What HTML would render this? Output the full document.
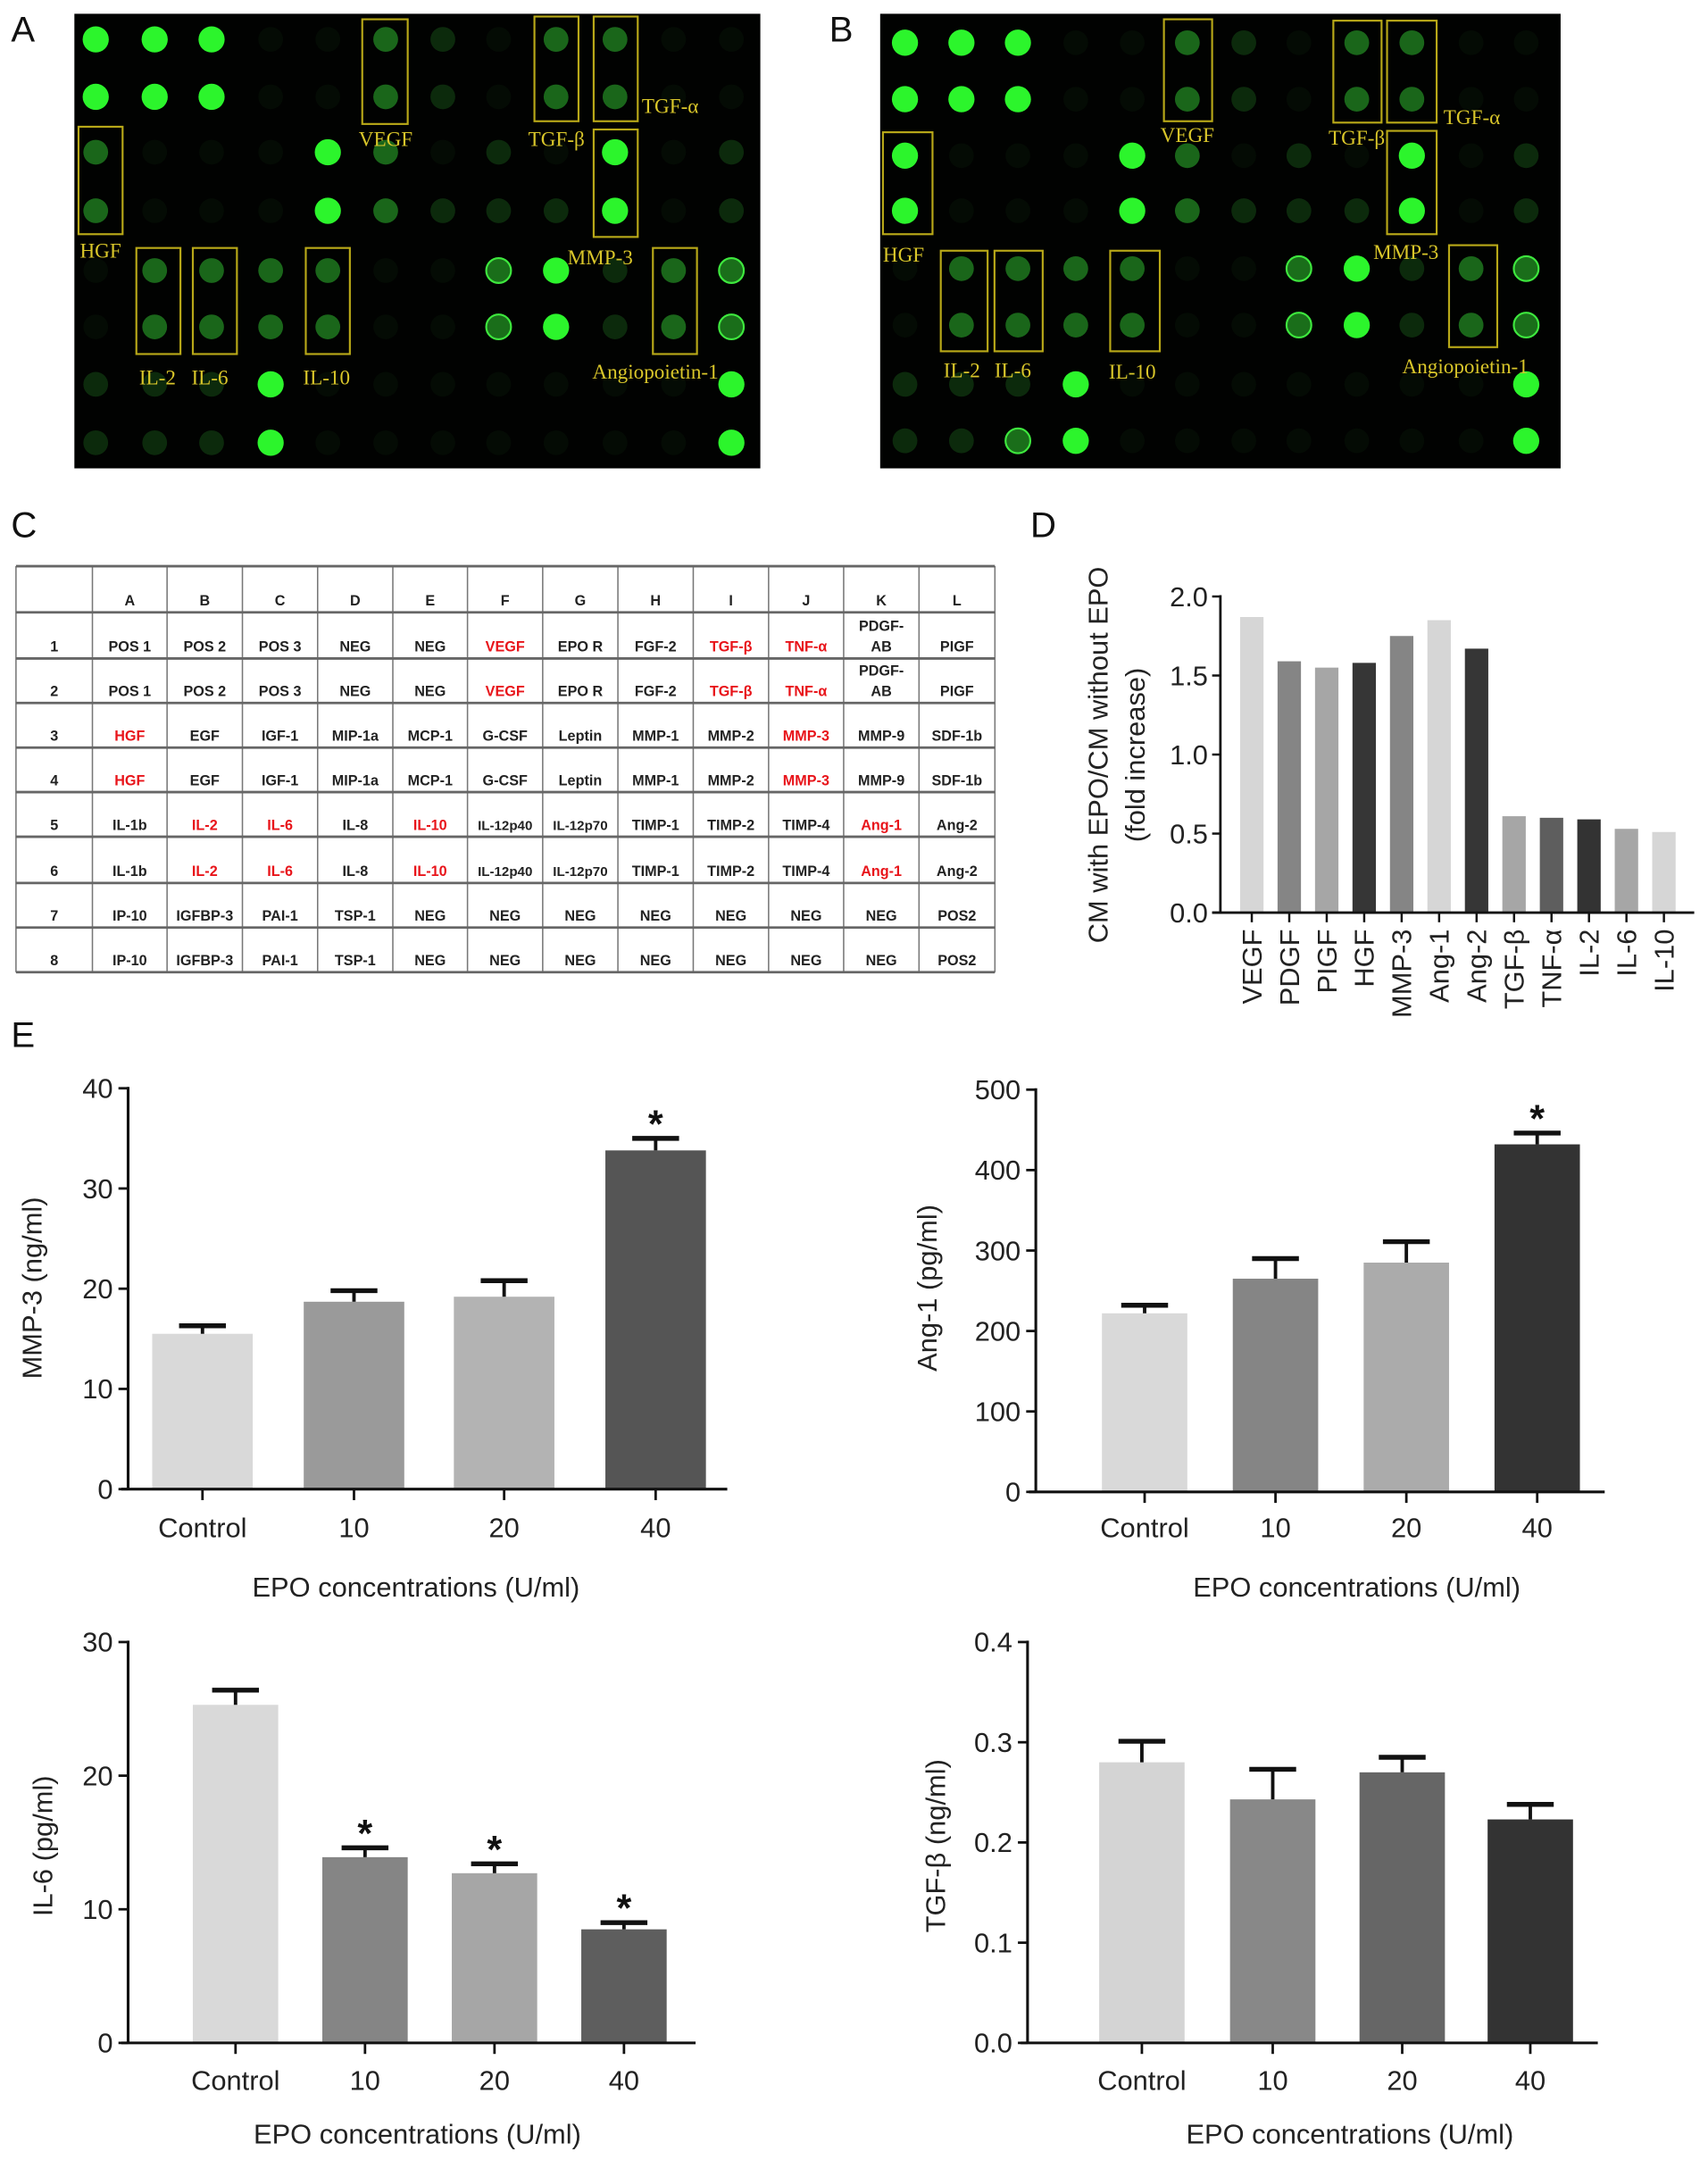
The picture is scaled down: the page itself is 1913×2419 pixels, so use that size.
<!DOCTYPE html>
<html><head><meta charset="utf-8"><style>
html,body{margin:0;padding:0;background:#fff;}
svg{display:block;}
text{font-family:"Liberation Sans",sans-serif;}
</style></head><body>
<svg id="fig" width="1913" height="2419" viewBox="0 0 1240 1568" preserveAspectRatio="none" xmlns="http://www.w3.org/2000/svg">
<rect x="0" y="0" width="1240" height="1568" fill="#fff"/>
</svg>
<script>
// ---------- data ----------
const arrayA = [
 [3,3,3,0,0,2,1,0,2,2,0,0],
 [3,3,3,0,0,2,1,0,2,2,0,0],
 [2,0,0,0,3,2,0,1,0,3,0,1],
 [2,0,0,0,3,2,1,1,1,3,0,1],
 [0,2,2,2,2,0,0,4,3,1,2,4],
 [0,2,2,2,2,0,0,4,3,1,2,4],
 [1,1,1,3,0,0,0,0,0,0,0,3],
 [1,1,1,3,0,0,0,0,0,0,0,3]];
const arrayB = [
 [3,3,3,0,0,2,1,0,2,2,0,0],
 [3,3,3,0,0,2,1,0,2,2,0,0],
 [3,0,0,0,3,2,0,1,0,3,0,1],
 [3,0,0,0,3,2,1,1,1,3,0,1],
 [0,2,2,2,2,0,0,4,3,1,2,4],
 [0,2,2,2,2,0,0,4,3,1,2,4],
 [1,1,1,3,0,0,0,0,0,0,0,3],
 [1,1,4,3,0,0,0,0,0,0,0,3]];
const tableCols = ["A","B","C","D","E","F","G","H","I","J","K","L"];
const tableRows = [
 ["POS 1","POS 2","POS 3","NEG","NEG","VEGF","EPO R","FGF-2","TGF-β","TNF-α","PDGF-|AB","PIGF"],
 ["POS 1","POS 2","POS 3","NEG","NEG","VEGF","EPO R","FGF-2","TGF-β","TNF-α","PDGF-|AB","PIGF"],
 ["HGF","EGF","IGF-1","MIP-1a","MCP-1","G-CSF","Leptin","MMP-1","MMP-2","MMP-3","MMP-9","SDF-1b"],
 ["HGF","EGF","IGF-1","MIP-1a","MCP-1","G-CSF","Leptin","MMP-1","MMP-2","MMP-3","MMP-9","SDF-1b"],
 ["IL-1b","IL-2","IL-6","IL-8","IL-10","IL-12p40","IL-12p70","TIMP-1","TIMP-2","TIMP-4","Ang-1","Ang-2"],
 ["IL-1b","IL-2","IL-6","IL-8","IL-10","IL-12p40","IL-12p70","TIMP-1","TIMP-2","TIMP-4","Ang-1","Ang-2"],
 ["IP-10","IGFBP-3","PAI-1","TSP-1","NEG","NEG","NEG","NEG","NEG","NEG","NEG","POS2"],
 ["IP-10","IGFBP-3","PAI-1","TSP-1","NEG","NEG","NEG","NEG","NEG","NEG","NEG","POS2"]];
const redNames = ["VEGF","TGF-β","TNF-α","HGF","MMP-3","IL-2","IL-6","IL-10","Ang-1"];
const dCategories = ["VEGF","PDGF","PIGF","HGF","MMP-3","Ang-1","Ang-2","TGF-β","TNF-α","IL-2","IL-6","IL-10"];
const dValues = [1.87,1.59,1.55,1.58,1.75,1.85,1.67,0.61,0.60,0.59,0.53,0.51];
const dTicks = [0,0.5,1.0,1.5,2.0];
const eCategories = ["Control","10","20","40"];
const mmpValues = [15.5,18.7,19.2,33.8];
const mmpErr = [16.3,19.8,20.8,35.0];
const mmpStar = [false,false,false,true];
const mmpTicks = [0,10,20,30,40];
const angValues = [222,265,285,432];
const angErr = [232,290,311,446];
const angStar = [false,false,false,true];
const angTicks = [0,100,200,300,400,500];
const il6Values = [25.3,13.9,12.7,8.5];
const il6Err = [26.4,14.6,13.4,9.0];
const il6Star = [false,true,true,true];
const il6Ticks = [0,10,20,30];
const tgfValues = [0.280,0.243,0.270,0.223];
const tgfErr = [0.301,0.273,0.285,0.238];
const tgfStar = [false,false,false,false];
const tgfTicks = [0.0,0.1,0.2,0.3,0.4];

// ---------- helpers ----------
const svg = document.getElementById('fig');
const NS = 'http://www.w3.org/2000/svg';
function mk(tag, attrs, parent, txt){
  const e = document.createElementNS(NS, tag);
  for (const k in attrs) e.setAttribute(k, attrs[k]);
  if (txt !== undefined) e.textContent = txt;
  (parent||svg).appendChild(e);
  return e;
}
function panelLabel(t,x,y){
  const e = mk('text',{x:x,y:y,'font-size':26,fill:'#111'},svg,t);
  
  
}

// ---------- arrays A / B ----------
const spotFill = ['#040b04','#0c2a0c','#1a661a','#2cf52c','#1a6e1a'];
function arrayPanel(name, mat, x0, y0, w, h, colX, rowY, boxes, labels){
  const g = mk('g',{});
  
  
  mk('rect',{x:x0,y:y0,width:w,height:h,fill:'#010201'},g);
  mat.forEach((row,ri)=>row.forEach((lv,ci)=>{
    const c = mk('circle',{cx:colX[ci],cy:rowY[ri],r:lv===3?9.5:9,fill:spotFill[lv]},g);
    if(lv===4){c.setAttribute('stroke','#3ee83e');c.setAttribute('stroke-width','1.4');}
    
    
  }));
  boxes.forEach(b=>{
    const r = mk('rect',{x:b[0],y:b[1],width:b[2],height:b[3],fill:'none',stroke:'#b8a818','stroke-width':1.4},g);
    
    
  });
  labels.forEach(l=>{
    const t = mk('text',{x:l[1],y:l[2],'font-size':15,fill:'#d9c62a','text-anchor':l[3]||'start',style:'font-family:"Liberation Serif",serif'},g,l[0]);
    
    
  });
}
panelLabel('A',8,30);
arrayPanel('array-panel-a',arrayA,54,10,498,330,
 [69.5,112.3,153.6,196.5,238,280,321.5,362,403.7,446.5,489,531],
 [28.6,70.3,110.5,153,196.4,237.3,279,321.4],
 [[263,14,33,76],[388,12,32,76],[431,12,32,76],[57,92,32,78],[431,94,32,78],[99,180,32,77],[140,180,32,77],[222,180,32,77],[474,180,32,77]],
 [['VEGF',280,106,'middle'],['TGF-β',404,106,'middle'],['TGF-α',466,82],['HGF',58,187],['MMP-3',412,192],['IL-2',101,279],['IL-6',139,279],['IL-10',220,279],['Angiopoietin-1',430,275]]);
panelLabel('B',602,30);
arrayPanel('array-panel-b',arrayB,639,10,494,330,
 [657,698,739,781,822,862,903,943,985,1025,1068,1108],
 [31,72,113,153,195,236,279,320],
 [[845,14,35,74],[968,15,35,74],[1007,15,36,74],[641,96,36,74],[1007,95,36,75],[683,182,34,73],[722,182,35,73],[806,182,36,73],[1052,178,35,74]],
 [['VEGF',862,103,'middle'],['TGF-β',985,105,'middle'],['TGF-α',1048,90],['HGF',641,190],['MMP-3',997,188],['IL-2',685,274],['IL-6',722,274],['IL-10',805,275],['Angiopoietin-1',1018,271]]);

// ---------- table C ----------
panelLabel('C',8,390);
(function(){
  const g = mk('g',{});  
  const xs=[11.6,67.1,121.3,176,230.6,285.2,339.4,394,448.6,503.3,558,612.5,667.2,722.3];
  const ys=[411,444.5,478,510.3,542.7,575,607.4,641,673.3,705.7];
  xs.forEach(x=>mk('line',{x1:x,y1:ys[0],x2:x,y2:ys[ys.length-1],stroke:'#777','stroke-width':1},g));
  ys.forEach(y=>mk('line',{x1:xs[0],y1:y,x2:xs[xs.length-1],y2:y,stroke:'#666','stroke-width':1.8},g));
  tableCols.forEach((c,i)=>{
    const t=mk('text',{x:(xs[i+1]+xs[i+2])/2,y:ys[1]-5,'font-size':10.5,'font-weight':'bold','text-anchor':'middle',fill:'#222'},g,c);
     
  });
  tableRows.forEach((row,ri)=>{
    const yb=ys[ri+2]-5;
    const rn=mk('text',{x:(xs[0]+xs[1])/2,y:yb,'font-size':10.5,'font-weight':'bold','text-anchor':'middle',fill:'#222'},g,String(ri+1));
     
    row.forEach((cell,ci)=>{
      const parts=cell.split('|');
      const col = redNames.includes(cell)?'#e8141a':'#222';
      parts.forEach((p,pi)=>{
        const t=mk('text',{x:(xs[ci+1]+xs[ci+2])/2,y:yb-(parts.length-1-pi)*15,'font-size':p.length>7?9.8:10.5,'font-weight':'bold','text-anchor':'middle',fill:col},g,p);
         
      });
    });
  });
})();

// ---------- chart D ----------
panelLabel('D',748,390);
const dColors=['#d6d6d6','#858585','#a6a6a6','#363636','#858585','#d6d6d6','#363636','#a6a6a6','#5e5e5e','#333333','#a6a6a6','#d6d6d6'];
(function(){
  const g=mk('g',{});  
  const ax=886, y0=662.5, y1=433, vmax=2.0;
  const yS=v=>y0-(v/vmax)*(y0-y1);
  const x0c=908.8, step=27.2, bw=17;
  dValues.forEach((v,i)=>{
    const r=mk('rect',{x:x0c+i*step-bw/2,y:yS(v),width:bw,height:y0-yS(v),fill:dColors[i]},g);
    
    
    mk('line',{x1:x0c+i*step,y1:y0,x2:x0c+i*step,y2:y0+7,stroke:'#111','stroke-width':1.6},g);
    const t=mk('text',{x:0,y:0,'font-size':20,'text-anchor':'end',fill:'#222',transform:`translate(${x0c+i*step+7},${y0+12}) rotate(-90)`},g,dCategories[i]);
     
  });
  mk('line',{x1:ax,y1:y1-1,x2:ax,y2:y0,stroke:'#111','stroke-width':1.8},g);
  mk('line',{x1:880,y1:y0,x2:1230,y2:y0,stroke:'#111','stroke-width':1.8},g);
  dTicks.forEach(v=>{
    mk('line',{x1:ax-6,y1:yS(v),x2:ax,y2:yS(v),stroke:'#111','stroke-width':1.6},g);
    const t=mk('text',{x:ax-9,y:yS(v)+7,'font-size':20,'text-anchor':'end',fill:'#222'},g,v.toFixed(1));
     
  });
  const t1=mk('text',{x:0,y:0,'font-size':20,'text-anchor':'middle',fill:'#222',transform:'translate(804,548) rotate(-90)'},g,'CM with EPO/CM without EPO');
   
  const t2=mk('text',{x:0,y:0,'font-size':20,'text-anchor':'middle',fill:'#222',transform:'translate(831,548) rotate(-90)'},g,'(fold increase)');
   
})();

// ---------- E charts ----------
panelLabel('E',8,760);
function barChart(name, vals, errs, stars, ticks, fmt, colors, ax, yBot, yTop, xEnd, centers, bw, ytitle, ytx, ytCenter, labelY, titleY, titleX){
  const g=mk('g',{});  
  const vmax=ticks[ticks.length-1];
  const yS=v=>yBot-(v/vmax)*(yBot-yTop);
  vals.forEach((v,i)=>{
    const cx=centers[i];
    const r=mk('rect',{x:cx-bw/2,y:yS(v),width:bw,height:yBot-yS(v),fill:colors[i]},g);
    
    
    const e1=mk('line',{x1:cx,y1:yS(v),x2:cx,y2:yS(errs[i]),stroke:'#111','stroke-width':2.5},g);
     
    mk('line',{x1:cx-17,y1:yS(errs[i]),x2:cx+17,y2:yS(errs[i]),stroke:'#111','stroke-width':3.5},g);
    if(stars[i]){
      const s=mk('text',{x:cx,y:yS(errs[i])-1,'font-size':28,'font-weight':'bold','text-anchor':'middle',fill:'#111'},g,'*');
       
    }
    mk('line',{x1:cx,y1:yBot,x2:cx,y2:yBot+8,stroke:'#111','stroke-width':1.8},g);
    const t=mk('text',{x:cx,y:labelY,'font-size':20,'text-anchor':'middle',fill:'#222'},g,eCategories[i]);
     
  });
  mk('line',{x1:ax,y1:yTop-1,x2:ax,y2:yBot,stroke:'#111','stroke-width':2},g);
  mk('line',{x1:ax-5,y1:yBot,x2:xEnd,y2:yBot,stroke:'#111','stroke-width':2},g);
  ticks.forEach(v=>{
    mk('line',{x1:ax-7,y1:yS(v),x2:ax,y2:yS(v),stroke:'#111','stroke-width':1.8},g);
    const t=mk('text',{x:ax-11,y:yS(v)+7,'font-size':20,'text-anchor':'end',fill:'#222'},g,fmt(v));
     
  });
  const yt=mk('text',{x:0,y:0,'font-size':20,'text-anchor':'middle',fill:'#222',transform:`translate(${ytx},${ytCenter}) rotate(-90)`},g,ytitle);
   
  const xt=mk('text',{x:titleX,y:titleY,'font-size':20,'text-anchor':'middle',fill:'#222'},g,'EPO concentrations (U/ml)');
   
}
barChart('chart-mmp3',mmpValues,mmpErr,mmpStar,mmpTicks,v=>String(v),['#d9d9d9','#9a9a9a','#b3b3b3','#555555'],
  93,1081,790,528,[147,257,366,476],73,'MMP-3 (ng/ml)',30,935,1116,1159,302);
barChart('chart-ang1',angValues,angErr,angStar,angTicks,v=>String(v),['#d9d9d9','#858585','#ababab','#333333'],
  752,1083,791,1165,[831,926,1021,1116],62,'Ang-1 (pg/ml)',680,935,1116,1159,985);
barChart('chart-il6',il6Values,il6Err,il6Star,il6Ticks,v=>String(v),['#d9d9d9','#858585','#a6a6a6','#5e5e5e'],
  93,1483,1192,505,[171,265,359,453],62,'IL-6 (pg/ml)',38,1340,1517,1556,303);
barChart('chart-tgfb',tgfValues,tgfErr,tgfStar,tgfTicks,v=>v.toFixed(1),['#d4d4d4','#888888','#666666','#333333'],
  746,1483,1192,1160,[829,924,1018,1111],62,'TGF-β (ng/ml)',686,1340,1517,1556,980);
</script>
</body></html>
